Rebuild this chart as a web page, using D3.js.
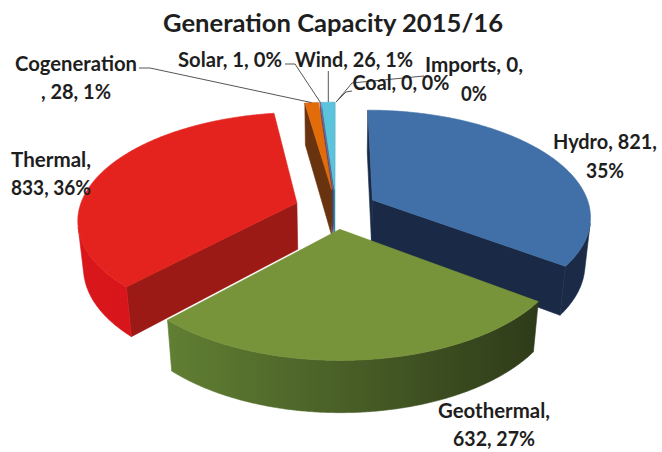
<!DOCTYPE html>
<html><head><meta charset="utf-8">
<script src="https://cdn.jsdelivr.net/npm/d3@7"></script>
<style>html,body{margin:0;padding:0;background:#fff;} svg{display:block}</style>
</head><body>
<svg id="chart" width="662" height="452"></svg>
<script>
// ---------------- DATA ----------------
const chartTitle = "Generation Capacity 2015/16";
const categories = ["Hydro", "Geothermal", "Thermal", "Cogeneration", "Solar", "Wind", "Coal", "Imports"];
const values     = [821, 632, 833, 28, 1, 26, 0, 0];

// ---------------- STYLE / LAYOUT ----------------
const topColors  = ["#4170A8", "#78943A", "#E4231F", "#E36C0A", "#7F6AA0", "#5BC3DC", "#8C8C8C", "#8C8C8C"];
const sideStart  = ["#1B2B47", "#2E3B19", "#D8151A", "#6B3410", "#4E3F66", "#2E8FA5", "#555", "#555"];
const sideEnd    = ["#1B2B47", "#617F33", "#DA171B", "#6B3410", "#4E3F66", "#2E8FA5", "#555", "#555"];
const radialCol  = ["#1A2A46", "#3A4A1E", "#9B1A15", "#6A3310", "#4E3F66", "#2A8599", "#555", "#555"];

const P = {cx: 336, cy: 255.5, S: 213, elev: 31 * Math.PI / 180, D: 6, H: 0.25, explode: 0.19};

// label layout: center x, baselines, line widths, wrap rule
const labelLayout = {
  Hydro:        {x: 605, ys: [149, 178], w: [104, 38], wrap: "c2"},
  Geothermal:   {x: 494, ys: [418, 446], w: [112, 82], wrap: "c1"},
  Thermal:      {x: 51,  ys: [167, 195], w: [80, 80],  wrap: "c1"},
  Cogeneration: {x: 76,  ys: [71, 99],   w: [122, 70], wrap: "b1"},
  Solar:        {x: 230, ys: [67],       w: [104],     wrap: null},
  Wind:         {x: 354, ys: [67],       w: [118],     wrap: null},
  Coal:         {x: 401, ys: [90],       w: [97],      wrap: null},
  Imports:      {x: 474, ys: [72, 101],  w: [98, 26],  wrap: "c2"}
};
const leaderLayout = {
  Cogeneration: [[139, 68], [150, 68]],
  Solar:        [[285, 64], [295, 64]],
  Wind:         [["a", 71]],
  Coal:         [[352, 91], [346, 92]],
  Imports:      [[424, 76], [352, 83]]
};

// ---------------- BUILD ----------------
const svg = d3.select("#chart");
const defs = svg.append("defs");
const data = categories.map((c, i) => ({cat: c, value: values[i], i}));
const total = d3.sum(values);
const pct = d3.format(".0%");

const pie = d3.pie().sort(null).value(d => d.value).startAngle(0).endAngle(2 * Math.PI);
const arcs = pie(data);

const se = Math.sin(P.elev), ce = Math.cos(P.elev);
const cam = [0, -P.D * ce, P.D * se];
function proj(u, v, z) {
  const yc = v * se + z * ce;
  const zc = -v * ce + z * se;
  const w = 1 - zc / P.D;
  return [P.cx + P.S * u / w, P.cy - P.S * yc / w];
}
function visible(n, p) {
  return n[0] * (cam[0] - p[0]) + n[1] * (cam[1] - p[1]) + n[2] * (cam[2] - p[2]) > 0;
}

arcs.forEach(a => {
  a.mid = (a.startAngle + a.endAngle) / 2;
  a.ox = P.explode * Math.sin(a.mid);
  a.oy = P.explode * Math.cos(a.mid);
  const c = [a.ox + 0.5 * Math.sin(a.mid), a.oy + 0.5 * Math.cos(a.mid), P.H / 2];
  a.dist = Math.hypot(cam[0] - c[0], cam[1] - c[1], cam[2] - c[2]);
  a.anchor = proj(a.ox + Math.sin(a.mid), a.oy + Math.cos(a.mid), P.H);
});

const line = d3.line();
const gPie = svg.append("g");
const order = arcs.filter(a => a.endAngle - a.startAngle > 0).sort((x, y) => y.dist - x.dist);

order.forEach(a => {
  const i = a.data.i;
  const a0 = a.startAngle, a1 = a.endAngle;
  const n = Math.max(2, Math.ceil((a1 - a0) / (Math.PI / 360)));
  const ts = d3.range(n + 1).map(k => a0 + (a1 - a0) * k / n);
  const pt = (t, z) => proj(a.ox + Math.sin(t), a.oy + Math.cos(t), z);
  const apexT = proj(a.ox, a.oy, P.H), apexB = proj(a.ox, a.oy, 0);
  const g = gPie.append("g");
  const face = (pts, col) => g.append("path").attr("d", line(pts) + "Z")
      .attr("fill", col).attr("stroke", col).attr("stroke-width", 0.6).attr("stroke-linejoin", "round");

  // radial faces
  const n0 = [-Math.cos(a0), Math.sin(a0), 0];
  const p0 = [a.ox + 0.5 * Math.sin(a0), a.oy + 0.5 * Math.cos(a0), P.H / 2];
  if (visible(n0, p0)) face([apexT, pt(a0, P.H), pt(a0, 0), apexB], radialCol[i]);
  const n1 = [Math.cos(a1), -Math.sin(a1), 0];
  const p1 = [a.ox + 0.5 * Math.sin(a1), a.oy + 0.5 * Math.cos(a1), P.H / 2];
  if (visible(n1, p1)) face([apexT, pt(a1, P.H), pt(a1, 0), apexB], radialCol[i]);

  // outer curved side: merge visible runs into single polygons with gradient
  const vis = d3.range(n).map(k => {
    const tm = (ts[k] + ts[k + 1]) / 2;
    return visible([Math.sin(tm), Math.cos(tm), 0], [a.ox + Math.sin(tm), a.oy + Math.cos(tm), P.H / 2]);
  });
  let k = 0, run = 0;
  while (k < n) {
    if (!vis[k]) { k++; continue; }
    let j = k;
    while (j < n && vis[j]) j++;
    const angs = ts.slice(k, j + 1);
    const topPts = angs.map(t => pt(t, P.H));
    const botPts = angs.map(t => pt(t, 0)).reverse();
    const f0 = k / n, f1 = j / n;
    const gid = "side" + i + "_" + (run++);
    const grad = defs.append("linearGradient").attr("id", gid)
      .attr("gradientUnits", "userSpaceOnUse")
      .attr("x1", topPts[0][0]).attr("y1", 0)
      .attr("x2", topPts[topPts.length - 1][0]).attr("y2", 0);
    const ci = d3.interpolateRgb(sideStart[i], sideEnd[i]);
    grad.append("stop").attr("offset", 0).attr("stop-color", ci(f0));
    grad.append("stop").attr("offset", 1).attr("stop-color", ci(f1));
    g.append("path").attr("d", line(topPts.concat(botPts)) + "Z")
      .attr("fill", `url(#${gid})`).attr("stroke", `url(#${gid})`)
      .attr("stroke-width", 0.6).attr("stroke-linejoin", "round");
    k = j;
  }
  // top face
  face([apexT].concat(ts.map(t => pt(t, P.H))), topColors[i]);
});

// leader lines
const gLead = svg.append("g");
arcs.forEach(a => {
  const L = leaderLayout[a.data.cat];
  if (!L) return;
  const pts = L.map(p => [p[0] === "a" ? a.anchor[0] : p[0], p[1]]).concat([a.anchor]);
  gLead.append("path").attr("d", line(pts)).attr("fill", "none")
    .attr("stroke", "#555").attr("stroke-width", 1);
});

// labels
const font = "Lato, 'Open Sans', 'DejaVu Sans', sans-serif";
const gLab = svg.append("g").attr("font-family", font).attr("font-weight", 700)
  .attr("fill", "#1e1e1e").attr("text-anchor", "middle");
arcs.forEach(a => {
  const d = a.data, L = labelLayout[d.cat];
  const p = pct(d.value / total);
  let lines;
  if (L.wrap === "c1") lines = [d.cat + ",", d.value + ", " + p];
  else if (L.wrap === "c2") lines = [d.cat + ", " + d.value + ",", p];
  else if (L.wrap === "b1") lines = [d.cat, ", " + d.value + ", " + p];
  else lines = [d.cat + ", " + d.value + ", " + p];
  lines.forEach((t, k) => {
    gLab.append("text").attr("x", L.x).attr("y", L.ys[k]).attr("font-size", 20)
      .attr("textLength", L.w[k]).attr("lengthAdjust", "spacingAndGlyphs").text(t);
  });
});

// title
svg.append("text").attr("x", 333).attr("y", 32).attr("text-anchor", "middle")
  .attr("font-family", font).attr("font-weight", 700).attr("font-size", 25)
  .attr("fill", "#1e1e1e").attr("textLength", 340).attr("lengthAdjust", "spacingAndGlyphs")
  .text(chartTitle);
</script>
</body></html>
